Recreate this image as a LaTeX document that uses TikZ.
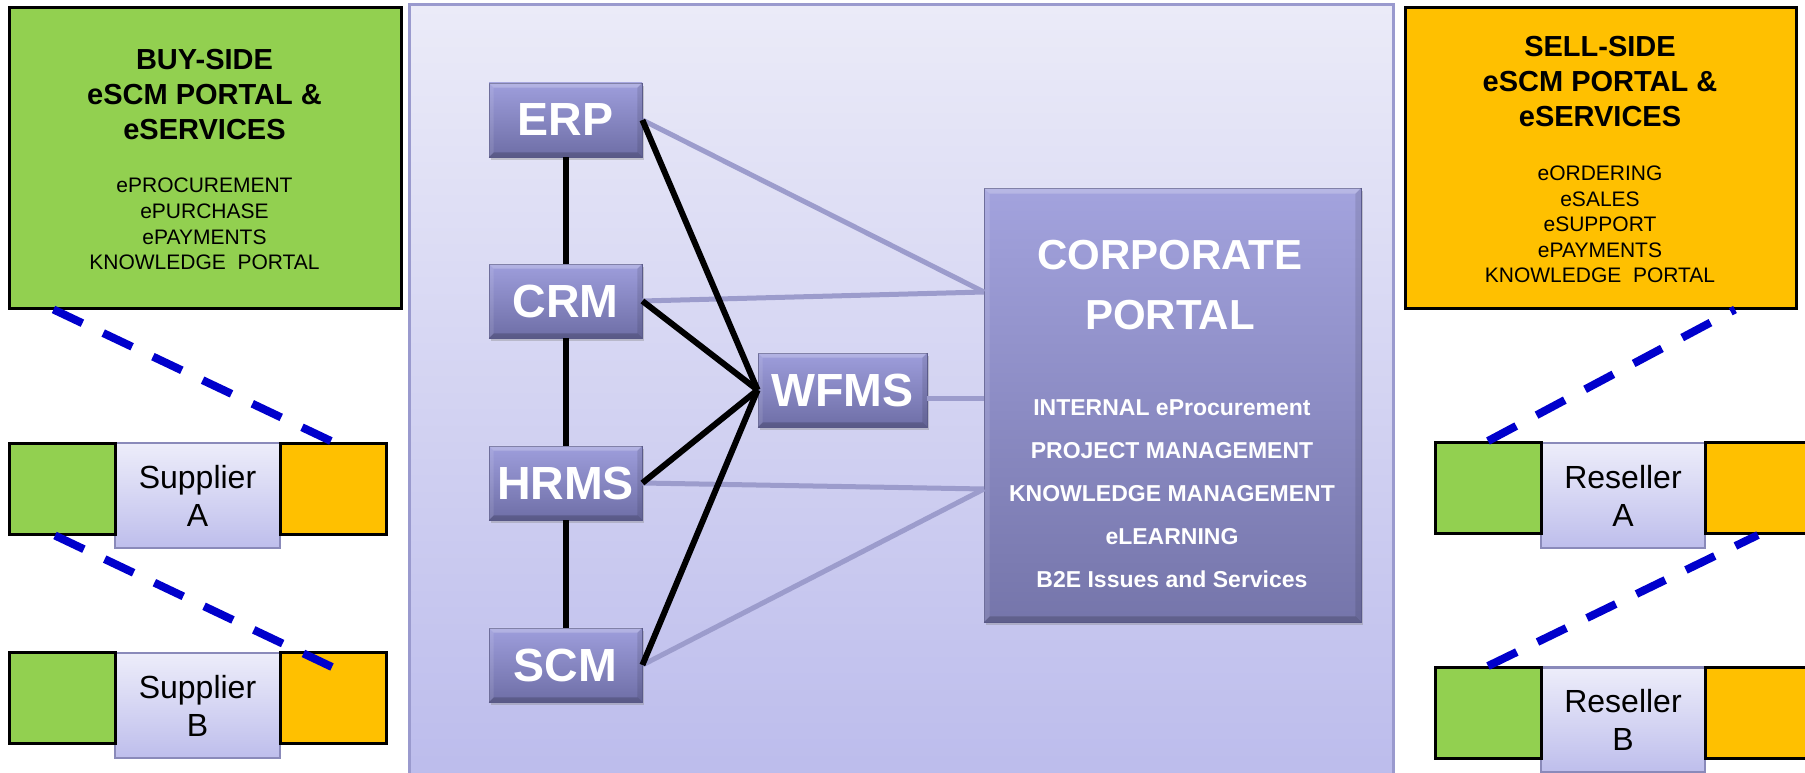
\documentclass[tikz,border=0pt]{standalone}
\usepackage{fontspec}
\setmainfont{Liberation Sans}
\usetikzlibrary{shadows}
\definecolor{cgreen}{HTML}{92D050}
\definecolor{corange}{HTML}{FFC000}
\definecolor{cblue}{HTML}{0000CC}
\definecolor{clav}{HTML}{9C9CCC}
\definecolor{panelTop}{HTML}{EBEBF8}
\definecolor{panelBot}{HTML}{BCBCEC}
\definecolor{panelEdge}{HTML}{9A9ACE}
\definecolor{btnTop}{HTML}{9E9EDC}
\definecolor{btnBot}{HTML}{6E6EA6}
\definecolor{btnEdge}{HTML}{5E5E90}
\definecolor{supTop}{HTML}{EDEDFA}
\definecolor{supBot}{HTML}{BEBEEC}
\definecolor{supEdge}{HTML}{8A8ABA}
\newcommand\mybevel[2]{%
  \fill[white,opacity=0.22] (#1.north west) -- (#1.north east) -- ([xshift=-#2,yshift=-#2]#1.north east) -- ([xshift=#2,yshift=-#2]#1.north west) -- cycle;
  \fill[black,opacity=0.18] (#1.south west) -- (#1.south east) -- ([xshift=-#2,yshift=#2]#1.south east) -- ([xshift=#2,yshift=#2]#1.south west) -- cycle;
  \fill[white,opacity=0.10] (#1.north west) -- (#1.south west) -- ([xshift=#2,yshift=#2]#1.south west) -- ([xshift=#2,yshift=-#2]#1.north west) -- cycle;
  \fill[black,opacity=0.10] (#1.north east) -- (#1.south east) -- ([xshift=-#2,yshift=#2]#1.south east) -- ([xshift=-#2,yshift=-#2]#1.north east) -- cycle;}
\begin{document}
\begin{tikzpicture}[x=1pt,y=-1pt,
  panel/.style={rectangle, inner sep=0, top color=panelTop, bottom color=panelBot, draw=panelEdge, line width=3pt},
  bigbox/.style={rectangle, inner sep=0, draw=black, line width=3pt, minimum width=392pt, minimum height=300pt},
  colbox/.style={rectangle, inner sep=0, draw=black, line width=3pt, minimum width=106pt, minimum height=91pt},
  supbox/.style={rectangle, inner sep=0, top color=supTop, bottom color=supBot, draw=supEdge, line width=2.5pt, minimum width=165pt, minimum height=105pt, align=center, font=\fontsize{32}{38}\selectfont},
  sysbox/.style={rectangle, inner sep=0, top color=btnTop, bottom color=btnBot, draw=btnEdge, line width=0.8pt, text=white, font=\fontsize{46.5}{52}\selectfont\bfseries, drop shadow={shadow xshift=2pt, shadow yshift=-3pt, opacity=0.35}},
  headtxt/.style={inner sep=0, align=center, font=\fontsize{29}{35}\selectfont\bfseries},
  listtxt/.style={inner sep=0, align=center, font=\fontsize{21}{25.6}\selectfont},
  blackln/.style={line width=6pt, black},
  lavln/.style={line width=5pt, clav},
  dashln/.style={line width=8pt, cblue, dash pattern=on 32pt off 23pt}]
\useasboundingbox (0,0) rectangle (1805,773);
\fill[white] (0,0) rectangle (1805,773);

% central panel
\node[panel, minimum width=984pt, minimum height=775pt] (panel) at (901,392.5) {};

% side boxes
\node[bigbox, fill=cgreen] (buy) at (205,158) {};
\node[headtxt] (buyhead) at (204.5,95) {BUY-SIDE\\eSCM PORTAL \&\\eSERVICES};
\node[listtxt] (buylist) at (204.5,224) {ePROCUREMENT\\ePURCHASE\\ePAYMENTS\\KNOWLEDGE~~PORTAL};

\node[bigbox, fill=corange, minimum width=391pt] (sell) at (1600.5,158) {};
\node[headtxt] (sellhead) at (1600,82) {SELL-SIDE\\eSCM PORTAL \&\\eSERVICES};
\node[listtxt] (selllist) at (1600,224.5) {eORDERING\\eSALES\\eSUPPORT\\ePAYMENTS\\KNOWLEDGE~~PORTAL};

% suppliers
\node[supbox] (supA) at (197.5,495.5) {Supplier\\A};
\node[colbox, fill=cgreen] (supAg) at (62,488.5) {};
\node[colbox, fill=corange] (supAo) at (333,488.5) {};
\node[supbox] (supB) at (197.5,705.5) {Supplier\\B};
\node[colbox, fill=cgreen] (supBg) at (62,698) {};
\node[colbox, fill=corange] (supBo) at (333,698) {};

% resellers
\node[supbox, minimum width=164pt] (resA) at (1623,495.5) {Reseller\\A};
\node[colbox, fill=cgreen] (resAg) at (1488,488) {};
\node[colbox, fill=corange] (resAo) at (1758,488) {};
\node[supbox, minimum width=164pt] (resB) at (1623,720) {Reseller\\B};
\node[colbox, fill=cgreen] (resBg) at (1488,713) {};
\node[colbox, fill=corange] (resBo) at (1758,713) {};

% connection points on the corporate portal
\coordinate (pA) at (984,292);
\coordinate (pW) at (984,398);
\coordinate (pB) at (984,489);

% system boxes
\node[sysbox, minimum width=153pt, minimum height=74pt] (ERP) at (565.5,120) {ERP};
\node[sysbox, minimum width=153pt, minimum height=74pt] (CRM) at (565.5,301) {CRM};
\node[sysbox, minimum width=153pt, minimum height=74pt] (HRMS) at (565.5,483) {HRMS};
\node[sysbox, minimum width=153pt, minimum height=74pt] (SCM) at (565.5,665) {SCM};
\node[sysbox, minimum width=169pt, minimum height=74pt] (WFMS) at (842.5,390) {WFMS};
\node[sysbox, minimum width=377pt, minimum height=434pt, top color=btnTop!95!white, bottom color=btnBot!95!white] (portal) at (1172.5,405) {};
\foreach \n in {ERP,CRM,HRMS,SCM,WFMS} {\mybevel{\n}{5pt}}
\mybevel{portal}{6pt}
\node[inner sep=0, align=center, text=white, font=\fontsize{42}{60}\selectfont\bfseries] (ptitle) at (1170,285) {CORPORATE\\PORTAL};
\node[inner sep=0, align=center, text=white, font=\fontsize{23}{43}\selectfont\bfseries] (plist) at (1172,494) {INTERNAL eProcurement\\PROJECT MANAGEMENT\\KNOWLEDGE MANAGEMENT\\eLEARNING\\B2E Issues and Services};

% lavender connectors
\draw[lavln] (ERP.east) -- (pA);
\draw[lavln] (CRM.east) -- (pA);
\draw[lavln] ([yshift=-8pt]WFMS.east) -- (pW);
\draw[lavln] (HRMS.east) -- (pB);
\draw[lavln] (SCM.east) -- (pB);

% black connectors
\draw[blackln] (ERP) -- (CRM);
\draw[blackln] (CRM) -- (HRMS);
\draw[blackln] (HRMS) -- (SCM);
\draw[blackln] (ERP.east) -- (WFMS.west);
\draw[blackln] (CRM.east) -- (WFMS.west);
\draw[blackln] (HRMS.east) -- (WFMS.west);
\draw[blackln] (SCM.east) -- (WFMS.west);

% dashed blue links
\coordinate (d1a) at ([xshift=46pt]buy.south west);
\coordinate (d1b) at ([xshift=-1pt]supAo.north);
\coordinate (d2a) at ([xshift=-7pt]supAg.south);
\coordinate (d2b) at ([xshift=-1pt,yshift=-16pt]supBo.north);
\coordinate (d3a) at (resAg.north);
\coordinate (d3b) at ([xshift=-23pt]sell.south -| resAo.north);
\coordinate (d4a) at (resBg.north);
\coordinate (d4b) at (resAo.south);
\draw[dashln] (d1a) -- (d1b);
\draw[dashln] (d2a) -- (d2b);
\draw[dashln] (d3a) -- (d3b);
\draw[dashln] (d4a) -- (d4b);
\end{tikzpicture}
\end{document}
